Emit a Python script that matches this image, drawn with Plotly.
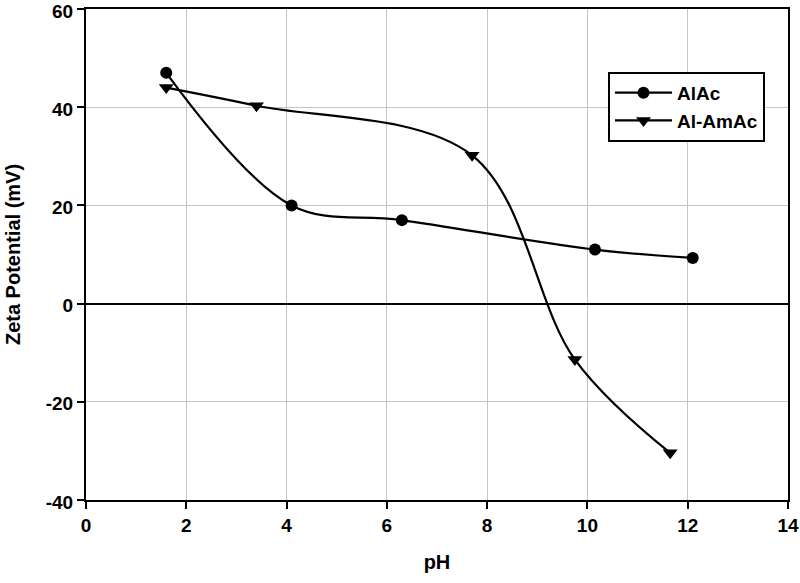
import plotly.graph_objects as go

alac_ph = [1.6, 4.1, 6.3, 10.15, 12.1]
alac_zeta = [47, 20, 17, 11, 9.3]
alamac_ph = [1.6, 3.4, 7.7, 9.75, 11.65]
alamac_zeta = [44, 40.3, 30.2, -11.4, -30.4]

x_ticks = [0, 2, 4, 6, 8, 10, 12, 14]
x_tick_labels = ["0", "2", "4", "6", "8", "10", "12", "14"]
y_ticks = [-40, -20, 0, 20, 40, 60]
y_tick_labels = ["-40", "-20", "0", "20", "40", "60"]

FONT = "Liberation Sans"

fig = go.Figure()
fig.add_trace(go.Scatter(
    x=alac_ph, y=alac_zeta, name="AlAc", mode="lines+markers",
    line=dict(color="black", width=2.2, shape="spline", smoothing=1),
    marker=dict(symbol="circle", size=12, color="black"),
))
fig.add_trace(go.Scatter(
    x=alamac_ph, y=alamac_zeta, name="Al-AmAc", mode="lines+markers",
    line=dict(color="black", width=2.2, shape="spline", smoothing=1),
    marker=dict(symbol="triangle-down", size=13, color="black"),
))

axis_common = dict(
    showline=True, linecolor="black", linewidth=2, mirror=True,
    ticks="outside", ticklen=7, tickwidth=1.5, tickcolor="black",
    showgrid=True, gridcolor="#c4c4c4", gridwidth=1,
    automargin=False, ticklabeloverflow="allow",
    tickfont=dict(family=FONT, size=19, color="black", weight="bold"),
)

fig.update_xaxes(
    range=[0, 14], tickvals=x_ticks, ticktext=x_tick_labels, zeroline=False,
    title=dict(text="pH", font=dict(family=FONT, size=20, color="black", weight="bold"), standoff=20),
    **axis_common,
)
fig.update_yaxes(
    range=[-40, 60], tickvals=y_ticks, ticktext=y_tick_labels,
    zeroline=True, zerolinecolor="black", zerolinewidth=1.5,
    ticklabelshift=2,
    title=dict(text="Zeta Potential (mV)", font=dict(family=FONT, size=20, color="black", weight="bold"), standoff=20),
    **axis_common,
)

fig.update_layout(
    width=800, height=583,
    margin=dict(l=86, r=12, t=9, b=83),
    plot_bgcolor="white", paper_bgcolor="white",
    font=dict(family=FONT, color="black"),
    showlegend=True,
    legend=dict(
        x=0.7436, y=0.872, xanchor="left", yanchor="top",
        bgcolor="white", bordercolor="black", borderwidth=2,
        font=dict(family=FONT, size=19, color="black", weight="bold"),
        itemwidth=57, tracegroupgap=0,
    ),
)

fig.write_html(
    "out.html",
    config={"displayModeBar": False},
    post_script="document.body.style.margin='0';document.body.style.overflow='hidden';",
)
